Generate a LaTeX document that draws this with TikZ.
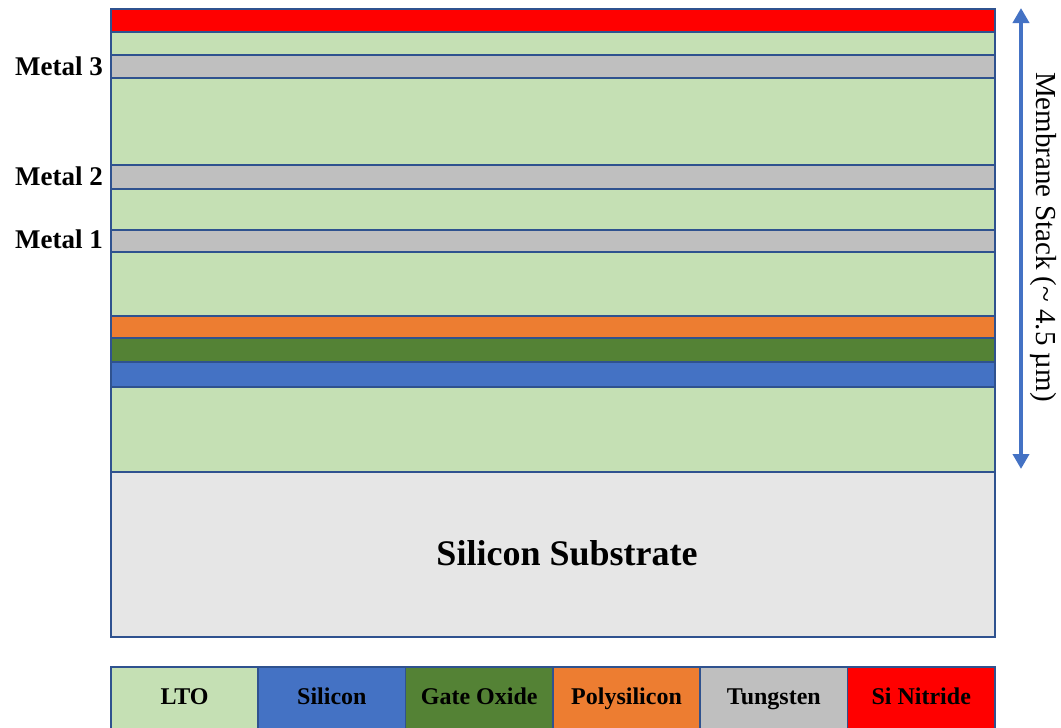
\documentclass[tikz,border=0pt]{standalone}
\usepackage{fontspec}
\setmainfont{Liberation Serif}
\usetikzlibrary{arrows.meta}

\definecolor{lto}{HTML}{C5E0B4}
\definecolor{silicon}{HTML}{4472C4}
\definecolor{gateox}{HTML}{548235}
\definecolor{poly}{HTML}{ED7D31}
\definecolor{tungsten}{HTML}{BFBFBF}
\definecolor{nitride}{HTML}{FF0000}
\definecolor{substrate}{HTML}{E6E6E6}
\definecolor{edge}{HTML}{2F528F}
\definecolor{arrowblue}{HTML}{4472C4}

\tikzset{
  layer/.style={draw=edge, line width=1.8pt, inner sep=0pt, anchor=north west,
                minimum width=884pt},
  metallabel/.style={anchor=east, inner sep=0pt,
                     font=\fontsize{27}{30}\selectfont\bfseries},
  legendcell/.style={draw=edge, line width=1.8pt, inner sep=0pt, anchor=north west,
                     minimum width=147.33pt, minimum height=66pt},
  legendtext/.style={font=\fontsize{24}{28}\selectfont\bfseries, inner sep=0pt,
                     anchor=base},
  stackarrow/.style={arrowblue, line width=4pt,
                     {Triangle[length=15pt,width=16pt]}-{Triangle[length=15pt,width=16pt]}},
}

\begin{document}
\begin{tikzpicture}[x=1pt, y=-1pt]
  \useasboundingbox (0,0) rectangle (1061,728);
  \clip (0,0) rectangle (1061,728);

  % membrane stack, top to bottom
  \node[layer, fill=nitride,  minimum height=23pt] (nit)  at (110,8)   {};
  \node[layer, fill=lto,      minimum height=23pt] (lto5) at (110,31)  {};
  \node[layer, fill=tungsten, minimum height=23pt] (m3)   at (110,54)  {};
  \node[layer, fill=lto,      minimum height=87pt] (lto4) at (110,77)  {};
  \node[layer, fill=tungsten, minimum height=24pt] (m2)   at (110,164) {};
  \node[layer, fill=lto,      minimum height=41pt] (lto3) at (110,188) {};
  \node[layer, fill=tungsten, minimum height=22pt] (m1)   at (110,229) {};
  \node[layer, fill=lto,      minimum height=64pt] (lto2) at (110,251) {};
  \node[layer, fill=poly,     minimum height=22pt] (ps)   at (110,315) {};
  \node[layer, fill=gateox,   minimum height=24pt] (gox)  at (110,337) {};
  \node[layer, fill=silicon,  minimum height=25pt] (si)   at (110,361) {};
  \node[layer, fill=lto,      minimum height=85pt] (lto1) at (110,386) {};
  \node[layer, fill=substrate, minimum height=165pt] (sub) at (110,471) {};
  \node[font=\fontsize{36}{40}\selectfont\bfseries] (subtext) at (567,553) {Silicon Substrate};

  % metal level labels
  \node[metallabel] (lab3) at (103,66)  {Metal 3};
  \node[metallabel] (lab2) at (103,176) {Metal 2};
  \node[metallabel] (lab1) at (103,239) {Metal 1};

  % thickness arrow
  \coordinate (atop) at (1021,8);
  \coordinate (abot) at (1021,469);
  \draw[stackarrow] (atop) -- (abot);
  \node[rotate=-90, inner sep=0pt, font=\fontsize{29}{32}\selectfont] (stacklabel) at (1043,237)
    {Membrane Stack (\char"007E{} 4.5 µm)};

  % legend
  \node[legendcell, fill=lto]      (k1) at (110,666)    {};
  \node[legendcell, fill=silicon]  (k2) at (257.33,666) {};
  \node[legendcell, fill=gateox]   (k3) at (404.67,666) {};
  \node[legendcell, fill=poly]     (k4) at (552,666)    {};
  \node[legendcell, fill=tungsten] (k5) at (699.33,666) {};
  \node[legendcell, fill=nitride]  (k6) at (846.67,666) {};
  \foreach \k/\t in {k1/LTO, k2/Silicon, k3/Gate Oxide, k4/Polysilicon, k5/Tungsten, k6/Si Nitride}
    \node[legendtext] (t\k) at (\k.center |- 0,704) {\t};
\end{tikzpicture}
\end{document}
